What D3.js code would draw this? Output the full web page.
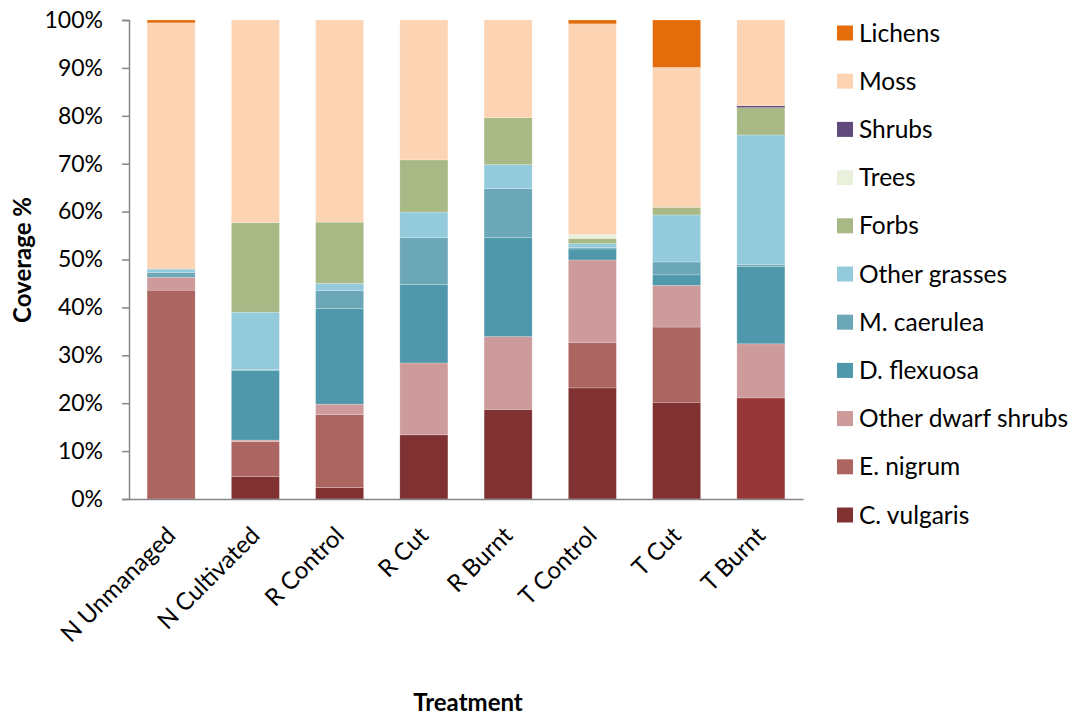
<!DOCTYPE html>
<html>
<head>
<meta charset="utf-8">
<script src="https://cdn.jsdelivr.net/npm/d3@7"></script>
<style>
  body { margin: 0; background: #fff; }
  svg { display: block; font-family: Lato, "Open Sans", sans-serif; }
</style>
</head>
<body>
<svg id="chart" width="1073" height="718"></svg>
<script>
// Treatments along the x axis
const treatments = ["N Unmanaged", "N Cultivated", "R Control", "R Cut", "R Burnt", "T Control", "T Cut", "T Burnt"];

// Vegetation groups, bottom of stack first
const groups = ["C. vulgaris", "E. nigrum", "Other dwarf shrubs", "D. flexuosa", "M. caerulea",
                "Other grasses", "Forbs", "Trees", "Shrubs", "Moss", "Lichens"];

// Percent cover of each group, one value per treatment
const cVulgaris        = [0,    4.7,  2.4, 13.4, 18.7, 23.2, 20.2, 21.1];
const eNigrum          = [43.6, 7.3, 15.2,  0,    0,    9.5, 15.7,  0];
const otherDwarfShrubs = [2.7,  0.3,  2.2, 15.0, 15.2, 17.2,  8.7, 11.3];
const dFlexuosa        = [0,   14.5, 20.0, 16.4, 20.7,  2.3,  2.2, 16.1];
const mCaerulea        = [1.0,  0.2,  3.7,  9.8, 10.2,  0.3,  2.7,  0.4];
const otherGrasses     = [0.7, 12.0,  1.5,  5.3,  5.0,  0.8,  9.8, 27.1];
const forbs            = [0,   18.7, 12.8, 10.9,  9.8,  1.1,  1.6,  5.7];
const trees            = [0,    0,    0,    0,    0,    0.8,  0,    0];
const shrubs           = [0,    0,    0,    0,    0,    0,    0,    0.4];
const moss             = [51.4, 42.3, 42.2, 29.2, 20.4, 44.0, 29.2, 17.9];
const lichens          = [0.6,  0,    0,    0,    0,    0.8,  9.9,  0];

const yTicks = [0, 0.1, 0.2, 0.3, 0.4, 0.5, 0.6, 0.7, 0.8, 0.9, 1.0];

const seriesValues = [cVulgaris, eNigrum, otherDwarfShrubs, dFlexuosa, mCaerulea,
                      otherGrasses, forbs, trees, shrubs, moss, lichens];

const colors = {
  "C. vulgaris": "#803232",
  "E. nigrum": "#ac6561",
  "Other dwarf shrubs": "#cd9b9b",
  "D. flexuosa": "#4f98ab",
  "M. caerulea": "#6ba7b7",
  "Other grasses": "#94cbdc",
  "Forbs": "#a9b985",
  "Trees": "#e9f0dc",
  "Shrubs": "#604a7b",
  "Moss": "#fcd4b4",
  "Lichens": "#e46c0a"
};
// T Burnt heather bar carries its own fill
const pointColors = { "C. vulgaris|T Burnt": "#953736" };

const rows = treatments.map((t, i) => {
  const r = { treatment: t };
  groups.forEach((g, k) => { r[g] = seriesValues[k][i]; });
  return r;
});

const stacked = d3.stack().keys(groups).offset(d3.stackOffsetExpand)(rows);

const svg = d3.select("#chart");
const margin = { left: 129, right: 270, top: 20, bottom: 219 };
const W = 1073, H = 718;

const x = d3.scaleBand().domain(treatments)
  .range([margin.left, W - margin.right]).paddingInner(0.43).paddingOuter(0.215);
const y = d3.scaleLinear().domain([0, 1]).range([H - margin.bottom, margin.top]);

// Bars
svg.append("g").selectAll("g").data(stacked).join("g")
  .selectAll("rect").data(s => s.map(d => ({ key: s.key, d })))
  .join("rect")
  .attr("x", o => x(o.d.data.treatment))
  .attr("width", x.bandwidth())
  .attr("y", o => y(o.d[1]))
  .attr("height", o => Math.max(0, y(o.d[0]) - y(o.d[1])))
  .attr("fill", o => pointColors[o.key + "|" + o.d.data.treatment] || colors[o.key])
  .attr("stroke", "#ffffff").attr("stroke-opacity", 0.35).attr("stroke-width", 0.6);

// Y axis
const yAxis = svg.append("g").attr("transform", `translate(${margin.left},0)`)
  .call(d3.axisLeft(y).tickValues(yTicks).tickFormat(d3.format(".0%")).tickSize(7).tickPadding(19));
yAxis.select(".domain").attr("stroke", "#868686").attr("stroke-width", 1.5);
yAxis.selectAll(".tick line").attr("stroke", "#868686").attr("stroke-width", 1.5);
yAxis.selectAll("text").attr("font-size", 23).attr("fill", "#000")
  .attr("font-family", "Lato, sans-serif");

// X axis line
const xAxis = svg.append("g").attr("transform", `translate(0,${H - margin.bottom})`)
  .call(d3.axisBottom(x).tickSize(0).tickFormat(""));
xAxis.select(".domain").attr("stroke", "#868686").attr("stroke-width", 1.5);

// Rotated category labels
svg.append("g").selectAll("text").data(treatments).join("text")
  .attr("transform", d => `translate(${x(d) + x.bandwidth() / 2 + 6},${H - margin.bottom + 38}) rotate(-45)`)
  .attr("text-anchor", "end")
  .attr("font-size", 24)
  .attr("fill", "#000")
  .text(d => d);

// Axis titles
svg.append("text")
  .attr("transform", `translate(31,260) rotate(-90)`)
  .attr("text-anchor", "middle").attr("font-size", 24).attr("font-weight", "bold")
  .text("Coverage %");
svg.append("text")
  .attr("x", 468).attr("y", 711)
  .attr("text-anchor", "middle").attr("font-size", 24).attr("font-weight", "bold")
  .text("Treatment");

// Legend, top entry is the top of the stack
const legendItems = groups.slice().reverse();
const legend = svg.append("g").selectAll("g").data(legendItems).join("g")
  .attr("transform", (d, i) => `translate(837,${33 + i * 48.2})`);
legend.append("rect").attr("x", 0).attr("y", -7.5).attr("width", 16).attr("height", 15)
  .attr("fill", d => colors[d]);
legend.append("text").attr("x", 22).attr("y", 8.5)
  .attr("font-size", 24.5).attr("fill", "#000").text(d => d);
</script>
</body>
</html>
